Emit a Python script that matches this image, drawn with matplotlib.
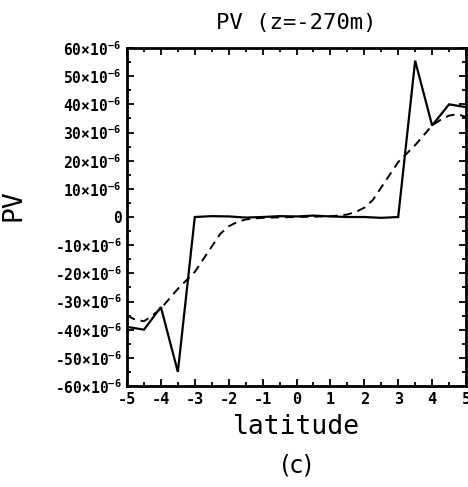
import matplotlib
matplotlib.use("Agg")
import matplotlib.pyplot as plt
from matplotlib.ticker import MultipleLocator, FixedLocator

# Data
lat_solid = [-5, -4.5, -4, -3.5, -3, -2.5, -2, -1.5, -1, -0.5, 0, 0.5, 1, 1.5, 2, 2.5, 3, 3.5, 4, 4.5, 5]
pv_solid = [-39, -40, -32, -55, 0, 0.3, 0.2, -0.2, 0, 0.3, 0.2, 0.5, 0.2, 0, 0, -0.3, 0, 55.5, 32.5, 40, 39]

lat_dash = [-5, -4.75, -4.5, -4.25, -4, -3.75, -3.5, -3.25, -3, -2.75, -2.5, -2.25, -2, -1.75, -1.5, -1.25,
            -1, -0.75, -0.5, -0.25, 0, 0.25, 0.5, 0.75, 1, 1.25, 1.5, 1.75, 2, 2.25, 2.5, 2.75, 3, 3.25,
            3.5, 3.75, 4, 4.25, 4.5, 4.75, 5]
pv_dash = [-35, -36.5, -37, -35, -32.5, -29, -25.5, -22.5, -19.5, -15, -10.5, -6, -3.3, -1.8, -0.9, -0.5,
           -0.3, -0.2, -0.1, -0.05, 0, 0.05, 0.1, 0.2, 0.3, 0.5, 0.9, 1.8, 3.3, 6, 10.5, 15, 19.5, 22.5,
           25.5, 29, 32.5, 34.5, 36, 36.5, 35.5]

yticks = [-60, -50, -40, -30, -20, -10, 0, 10, 20, 30, 40, 50, 60]
ytick_labels = ["-60×10$^{-6}$", "-50×10$^{-6}$", "-40×10$^{-6}$", "-30×10$^{-6}$", "-20×10$^{-6}$",
                "-10×10$^{-6}$", "0", "10×10$^{-6}$", "20×10$^{-6}$", "30×10$^{-6}$", "40×10$^{-6}$",
                "50×10$^{-6}$", "60×10$^{-6}$"]
xticks = [-5, -4, -3, -2, -1, 0, 1, 2, 3, 4, 5]
xtick_labels = ["-5", "-4", "-3", "-2", "-1", "0", "1", "2", "3", "4", "5"]

plt.rcParams["mathtext.fontset"] = "custom"
plt.rcParams["mathtext.rm"] = "DejaVu Sans Mono:bold"
plt.rcParams["mathtext.it"] = "DejaVu Sans Mono:bold"
plt.rcParams["mathtext.bf"] = "DejaVu Sans Mono:bold"
plt.rcParams["mathtext.default"] = "rm"

fig = plt.figure(figsize=(4.68, 4.87), dpi=100)
ax = fig.add_axes([127/468, 1 - 386/487, (466 - 127)/468, (386 - 48)/487])

ax.plot(lat_solid, pv_solid, color="black", lw=1.6, solid_joinstyle="miter")
ax.plot(lat_dash, pv_dash, color="black", lw=1.4, linestyle=(0, (4.5, 3)))

ax.set_xlim(-5, 5)
ax.set_ylim(-60, 60)

mono = "DejaVu Sans Mono"
ax.xaxis.set_major_locator(FixedLocator(xticks))
ax.set_xticklabels(xtick_labels, fontsize=11, fontweight="bold", family=mono)
ax.xaxis.set_minor_locator(MultipleLocator(0.5))
ax.yaxis.set_major_locator(FixedLocator(yticks))
ax.set_yticklabels(ytick_labels, fontsize=10.5, fontweight="bold", family=mono)
ax.yaxis.set_minor_locator(MultipleLocator(5))

ax.tick_params(which="both", direction="in", top=True, right=True, width=1.3)
ax.tick_params(which="major", length=5, pad=4)
ax.tick_params(which="minor", length=3)
for s in ax.spines.values():
    s.set_linewidth(2)

ax.set_title("PV (z=-270m)", fontsize=16, family=mono, pad=14)
ax.set_xlabel("latitude", fontsize=19, family=mono, labelpad=5)
ax.set_ylabel("PV", fontsize=19, family=mono)
ax.yaxis.set_label_coords(-0.295, 0.535)
fig.text(297/468, 1 - 465/487, "(c)", fontsize=17, family="DejaVu Sans", ha="center", va="center")

fig.savefig("out.png", dpi=100)
